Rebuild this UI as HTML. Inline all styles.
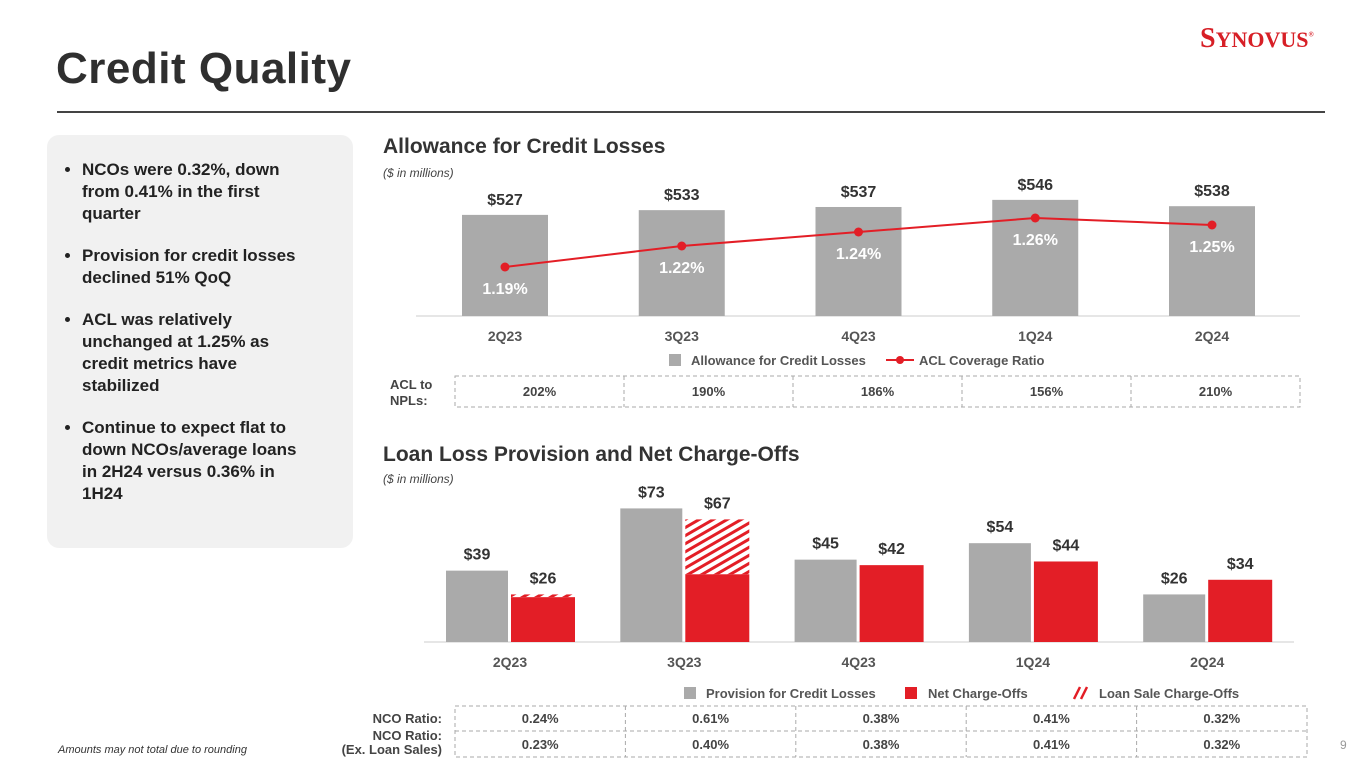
<!DOCTYPE html>
<html><head><meta charset="utf-8">
<style>
body{margin:0;width:1365px;height:768px;background:#fff;font-family:"Liberation Sans",sans-serif;overflow:hidden;position:relative;color:#333}
.abs{position:absolute}
</style></head>
<body>
<div class="abs" style="left:56px;top:44px;font-size:44px;font-weight:bold;color:#2f2f2f;letter-spacing:0.5px">Credit Quality</div>
<div class="abs" style="left:1200px;top:23px;font-family:'Liberation Serif',serif;font-size:28px;color:#d71f26;font-weight:bold;letter-spacing:0px">S<span style="font-size:22px">YNOVUS</span><sup style="font-size:7px">®</sup></div>
<div class="abs" style="left:57px;top:111px;width:1268px;height:2px;background:#444"></div>
<div class="abs" style="left:47px;top:135px;width:306px;height:413px;background:#f1f1f1;border-radius:12px"></div>
<ul class="abs" style="left:62px;top:159px;width:230px;margin:0;padding:0 0 0 20px;font-size:17px;font-weight:bold;line-height:22px;color:#222">
<li style="margin-bottom:20px">NCOs were 0.32%, down from 0.41% in the first quarter</li>
<li style="margin-bottom:20px">Provision for credit losses declined 51% QoQ</li>
<li style="margin-bottom:20px">ACL was relatively unchanged at 1.25% as credit metrics have stabilized</li>
<li>Continue to expect flat to down NCOs/average loans in 2H24 versus 0.36% in 1H24</li>
</ul>
<div class="abs" style="left:58px;top:744px;font-size:11px;font-style:italic;color:#333">Amounts may not total due to rounding</div>
<div class="abs" style="left:1340px;top:738px;font-size:12px;color:#999">9</div>

<svg class="abs" style="left:0;top:0" width="1365" height="768">
<defs>
<pattern id="hatch" patternUnits="userSpaceOnUse" width="7" height="7" patternTransform="rotate(-30)">
<rect width="7" height="7" fill="#fff"/><rect width="7" height="3" fill="#e31e26"/>
</pattern>
</defs>
<g id="topChart"></g>
<g id="botChart"></g>
</svg>

<script>
const topCats=["2Q23","3Q23","4Q23","1Q24","2Q24"];
const aclValues=[527,533,537,546,538];
const aclRatio=[1.19,1.22,1.24,1.26,1.25];
const aclNpl=["202%","190%","186%","156%","210%"];
const provision=[39,73,45,54,26];
const nco=[26,67,42,44,34];
const ncoExLoanSale=[24.5,37,42,44,34];
const ncoRatio=["0.24%","0.61%","0.38%","0.41%","0.32%"];
const ncoRatioEx=["0.23%","0.40%","0.38%","0.41%","0.32%"];

const NS="http://www.w3.org/2000/svg";
function mk(parent,tag,attrs,text){const e=document.createElementNS(NS,tag);for(const k in attrs)e.setAttribute(k,attrs[k]);if(text!==undefined)e.textContent=text;parent.appendChild(e);return e;}
const topG=document.getElementById('topChart'),botG=document.getElementById('botChart');

let t;
t=mk(topG,'text',{x:383,y:153,'font-size':21,'font-weight':'bold',fill:'#333'},"Allowance for Credit Losses");

t=mk(topG,'text',{x:383,y:177,'font-size':12,'font-style':'italic',fill:'#444'},"($ in millions)");

t=mk(botG,'text',{x:383,y:461,'font-size':21,'font-weight':'bold',fill:'#333'},"Loan Loss Provision and Net Charge-Offs");

t=mk(botG,'text',{x:383,y:483,'font-size':12,'font-style':'italic',fill:'#444'},"($ in millions)");


const tBase=316;
function tx(i){return 505+i*176.75;}
function ty(v){return tBase-(v-399)*0.79;}
function ly(v){return 267-(v-1.19)*700;}
mk(topG,'line',{x1:416,x2:1300,y1:tBase,y2:tBase,stroke:'#ccc','stroke-width':1});
aclValues.forEach((v,i)=>{
  const r=mk(topG,'rect',{x:tx(i)-43,y:ty(v),width:86,height:tBase-ty(v),fill:'#aaa'});
  
  
  const l=mk(topG,'text',{x:tx(i),y:ty(v)-10,'text-anchor':'middle','font-size':16,'font-weight':'bold',fill:'#333'},'$'+v);
  
  
  const c=mk(topG,'text',{x:tx(i),y:tBase+25,'text-anchor':'middle','font-size':14,'font-weight':'bold',fill:'#555'},topCats[i]);
  
  
});
const pts=aclRatio.map((v,i)=>tx(i)+','+ly(v)).join(' ');
const pl=mk(topG,'polyline',{points:pts,fill:'none',stroke:'#e31e26','stroke-width':2});


aclRatio.forEach((v,i)=>{
  const d=mk(topG,'circle',{cx:tx(i),cy:ly(v),r:4.5,fill:'#e31e26'});
  
  
  const l=mk(topG,'text',{x:tx(i),y:ly(v)+27,'text-anchor':'middle','font-size':16,'font-weight':'bold',fill:'#fff'},v.toFixed(2)+'%');
  
  
});
let g=mk(topG,'g',{});


mk(g,'rect',{x:669,y:354,width:12,height:12,fill:'#aaa'});
mk(g,'text',{x:691,y:365,'font-size':13,'font-weight':'bold',fill:'#555'},"Allowance for Credit Losses");
mk(g,'line',{x1:886,x2:914,y1:360,y2:360,stroke:'#e31e26','stroke-width':2});
mk(g,'circle',{cx:900,cy:360,r:4,fill:'#e31e26'});
mk(g,'text',{x:919,y:365,'font-size':13,'font-weight':'bold',fill:'#555'},"ACL Coverage Ratio");
t=mk(topG,'text',{x:390,y:389,'font-size':13,'font-weight':'bold',fill:'#444'},"ACL to");

mk(topG,'text',{x:390,y:405,'font-size':13,'font-weight':'bold',fill:'#444'},"NPLs:");
mk(topG,'rect',{x:455,y:376,width:845,height:31,fill:'none',stroke:'#aaa','stroke-dasharray':'4,3'});
aclNpl.forEach((v,i)=>{
  const cx=455+845/5*(i+0.5);
  if(i>0)mk(topG,'line',{x1:455+169*i,x2:455+169*i,y1:376,y2:407,stroke:'#aaa','stroke-dasharray':'4,3'});
  const c=mk(topG,'text',{x:cx,y:396,'text-anchor':'middle','font-size':13,'font-weight':'bold',fill:'#444'},v);
  
  
});

const bBase=642;
function bx(i){return 510+i*174.3;}
function by(v){return bBase-v*1.83;}
mk(botG,'line',{x1:424,x2:1294,y1:bBase,y2:bBase,stroke:'#ccc','stroke-width':1});
topCats.forEach((c,i)=>{
  const p=mk(botG,'rect',{x:bx(i)-64,y:by(provision[i]),width:62,height:bBase-by(provision[i]),fill:'#aaa'});
  
  
  const lp=mk(botG,'text',{x:bx(i)-33,y:by(provision[i])-11,'text-anchor':'middle','font-size':16,'font-weight':'bold',fill:'#333'},'$'+provision[i]);
  
  
  if(nco[i]>ncoExLoanSale[i]){
    const h=mk(botG,'rect',{x:bx(i)+1,y:by(nco[i]),width:64,height:by(ncoExLoanSale[i])-by(nco[i]),fill:'url(#hatch)'});
    
    
  }
  const n=mk(botG,'rect',{x:bx(i)+1,y:by(ncoExLoanSale[i]),width:64,height:bBase-by(ncoExLoanSale[i]),fill:'#e31e26'});
  
  
  const ln=mk(botG,'text',{x:bx(i)+33,y:by(nco[i])-11,'text-anchor':'middle','font-size':16,'font-weight':'bold',fill:'#333'},'$'+nco[i]);
  
  
  const cl=mk(botG,'text',{x:bx(i),y:bBase+25,'text-anchor':'middle','font-size':14,'font-weight':'bold',fill:'#555'},c);
  
  
});
g=mk(botG,'g',{});


mk(g,'rect',{x:684,y:687,width:12,height:12,fill:'#aaa'});
mk(g,'text',{x:706,y:698,'font-size':13,'font-weight':'bold',fill:'#555'},"Provision for Credit Losses");
mk(g,'rect',{x:905,y:687,width:12,height:12,fill:'#e31e26'});
mk(g,'text',{x:928,y:698,'font-size':13,'font-weight':'bold',fill:'#555'},"Net Charge-Offs");
mk(g,'path',{d:'M1074,699 L1080,687 M1081,699 L1087,687',stroke:'#e31e26','stroke-width':2.5});
mk(g,'text',{x:1099,y:698,'font-size':13,'font-weight':'bold',fill:'#555'},"Loan Sale Charge-Offs");
mk(botG,'text',{x:442,y:723,'text-anchor':'end','font-size':13,'font-weight':'bold',fill:'#444'},"NCO Ratio:");
mk(botG,'text',{x:442,y:740,'text-anchor':'end','font-size':13,'font-weight':'bold',fill:'#444'},"NCO Ratio:");
mk(botG,'text',{x:442,y:754,'text-anchor':'end','font-size':13,'font-weight':'bold',fill:'#444'},"(Ex. Loan Sales)");
mk(botG,'rect',{x:455,y:706,width:852,height:51,fill:'none',stroke:'#aaa','stroke-dasharray':'4,3'});
mk(botG,'line',{x1:455,x2:1307,y1:731,y2:731,stroke:'#aaa','stroke-dasharray':'4,3'});
ncoRatio.forEach((v,i)=>{
  const cx=455+852/5*(i+0.5);
  if(i>0)mk(botG,'line',{x1:455+170.4*i,x2:455+170.4*i,y1:706,y2:757,stroke:'#aaa','stroke-dasharray':'4,3'});
  const a=mk(botG,'text',{x:cx,y:723,'text-anchor':'middle','font-size':13,'font-weight':'bold',fill:'#444'},v);
  
  
  const b=mk(botG,'text',{x:cx,y:749,'text-anchor':'middle','font-size':13,'font-weight':'bold',fill:'#444'},ncoRatioEx[i]);
  
  
});
</script>
</body></html>
